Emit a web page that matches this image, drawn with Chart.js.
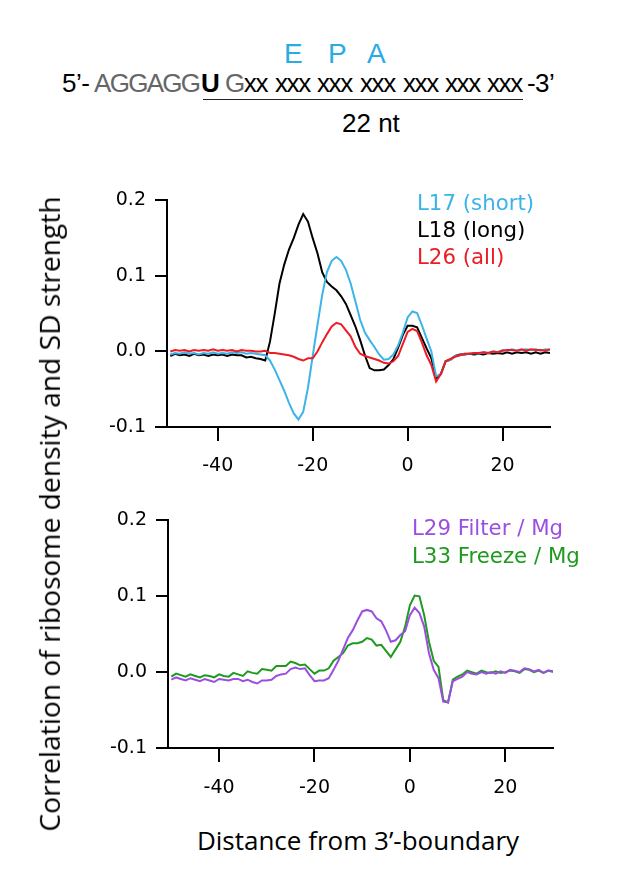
<!DOCTYPE html>
<html><head><meta charset="utf-8">
<script src="https://cdn.jsdelivr.net/npm/chart.js@4.4.0/dist/chart.umd.min.js"></script>
<style>
body{margin:0;width:638px;height:886px;background:#fff;position:relative;overflow:hidden;}
.abs{position:absolute;white-space:nowrap;line-height:1;}
.leg{font-family:"DejaVu Sans";font-size:21.3px;}
.sq{position:absolute;white-space:nowrap;line-height:1;top:70px;font-family:'Liberation Sans';font-size:26px;color:#000;letter-spacing:-1.4px;}
.epa{position:absolute;line-height:1;top:40px;font-family:'Liberation Sans';font-size:28px;color:#29abe2;}
</style></head><body>

<div class="epa" style="left:284px;">E</div>
<div class="epa" style="left:328px;">P</div>
<div class="epa" style="left:367px;">A</div>

<div class="sq" style="left:62px;letter-spacing:-0.5px;">5’-</div>
<div class="sq" style="left:94px;color:#666;letter-spacing:-1.7px;">AGGAGG</div>
<div class="sq" style="left:201px;font-weight:bold;letter-spacing:0;">U</div>
<div class="sq" style="left:225px;"><span style="color:#666">G</span>xx</div>
<div class="sq" style="left:275px;">xxx</div>
<div class="sq" style="left:317px;">xxx</div>
<div class="sq" style="left:360px;">xxx</div>
<div class="sq" style="left:403px;">xxx</div>
<div class="sq" style="left:445px;">xxx</div>
<div class="sq" style="left:487px;">xxx</div>
<div class="sq" style="left:527px;letter-spacing:-0.6px;">-3’</div>

<div class="abs" style="left:203px;top:99px;width:320px;height:0;border-top:1.5px solid #222;"></div>
<div class="abs" style="left:342px;top:110px;font-family:'Liberation Sans';font-size:26px;color:#000;">22 nt</div>

<div class="abs" style="left:0;top:180px;"><canvas id="c1" width="638" height="300"></canvas></div>
<div class="abs" style="left:0;top:500px;"><canvas id="c2" width="638" height="300"></canvas></div>

<div class="abs leg" style="left:417px;top:192px;color:#3cb4e8;">L17 (short)</div>
<div class="abs leg" style="left:417px;top:219px;color:#000;">L18 (long)</div>
<div class="abs leg" style="left:417px;top:246px;color:#ed1c24;">L26 (all)</div>
<div class="abs leg" style="left:412px;top:517px;color:#9b4fe0;">L29 Filter / Mg</div>
<div class="abs leg" style="left:412px;top:545px;color:#1f9a1f;">L33 Freeze / Mg</div>

<div class="abs" style="left:49px;top:514px;transform:translate(-50%,-50%) rotate(-90deg);font-family:'Open Sans';font-size:28.2px;color:#000;">Correlation of ribosome density and SD strength</div>
<div class="abs" style="left:358px;top:840px;transform:translate(-50%,-50%);font-family:'Open Sans';font-size:26px;color:#000;">Distance from 3’-boundary</div>

<script>
const positions = [-50,-49,-48,-47,-46,-45,-44,-43,-42,-41,-40,-39,-38,-37,-36,-35,-34,-33,-32,-31,-30,-29,-28,-27,-26,-25,-24,-23,-22,-21,-20,-19,-18,-17,-16,-15,-14,-13,-12,-11,-10,-9,-8,-7,-6,-5,-4,-3,-2,-1,0,1,2,3,4,5,6,7,8,9,10,11,12,13,14,15,16,17,18,19,20,21,22,23,24,25,26,27,28,29,30];
const xTicks = [-40,-20,0,20];
const yTicks = [-0.1,0.0,0.1,0.2];

const L17_short = [-0.004,-0.002,-0.003,-0.001,-0.003,-0.002,-0.004,-0.002,-0.003,-0.001,-0.003,-0.002,-0.003,-0.001,-0.002,-0.001,-0.003,-0.002,-0.003,-0.004,
 -0.005,-0.012,-0.024,-0.038,-0.052,-0.068,-0.082,-0.09,-0.08,-0.048,-0.006,0.035,0.075,0.105,0.12,0.125,0.12,0.108,0.09,0.066,0.042,0.025,0.015,0.006,-0.004,-0.011,-0.01,-0.004,0.008,0.025,
 0.045,0.053,0.051,0.035,0.017,0.0,-0.033,-0.03,-0.013,-0.011,-0.006,-0.005,-0.003,-0.003,-0.002,-0.003,-0.001,-0.002,0.0,-0.001,0.002,0.001,0.003,0.001,0.002,0.003,0.002,0.003,0.001,0.003,0.002];
const L18_long = [-0.006,-0.003,-0.005,-0.004,-0.006,-0.003,-0.005,-0.004,-0.006,-0.004,-0.005,-0.004,-0.006,-0.004,-0.005,-0.005,-0.008,-0.007,-0.009,-0.010,
 -0.012,0.013,0.05,0.09,0.115,0.135,0.15,0.168,0.182,0.172,0.15,0.13,0.105,0.092,0.086,0.081,0.073,0.063,0.048,0.033,0.015,-0.005,-0.022,-0.025,-0.025,-0.024,-0.018,-0.01,0.005,0.022,
 0.034,0.034,0.032,0.018,0.004,-0.009,-0.035,-0.03,-0.013,-0.011,-0.006,-0.004,-0.004,-0.003,-0.004,-0.003,-0.004,-0.002,-0.003,-0.002,-0.003,-0.001,-0.003,-0.001,-0.002,-0.001,-0.003,-0.001,-0.003,-0.001,-0.002];
const L26_all = [0.0,0.002,0.001,0.002,0.0,0.002,0.001,0.002,0.001,0.003,0.001,0.002,0.001,0.002,0.0,0.002,0.001,0.001,0.0,0.0,
 0.001,-0.002,-0.002,-0.003,-0.004,-0.005,-0.007,-0.01,-0.012,-0.009,-0.009,0.0,0.012,0.023,0.033,0.038,0.036,0.028,0.02,0.006,-0.003,-0.006,-0.008,-0.01,-0.012,-0.015,-0.016,-0.013,-0.006,0.01,
 0.026,0.03,0.027,0.012,-0.005,-0.018,-0.04,-0.03,-0.013,-0.01,-0.007,-0.005,-0.003,-0.003,-0.002,-0.002,-0.001,-0.002,0.0,-0.001,0.001,0.002,0.002,0.001,0.003,0.001,0.003,0.002,0.002,0.001,0.003];
const L29_filter = [-0.01,-0.007,-0.009,-0.011,-0.008,-0.01,-0.012,-0.009,-0.011,-0.013,-0.009,-0.01,-0.011,-0.009,-0.009,-0.012,-0.01,-0.013,-0.015,-0.011,
 -0.011,-0.01,-0.005,-0.003,-0.002,0.004,0.006,0.004,0.005,-0.004,-0.012,-0.011,-0.011,-0.008,0.003,0.015,0.03,0.045,0.055,0.068,0.08,0.082,0.08,0.071,0.067,0.055,0.04,0.042,0.049,0.054,
 0.075,0.085,0.078,0.06,0.025,0.003,-0.008,-0.039,-0.04,-0.012,-0.009,-0.006,0.0,-0.002,-0.003,0.0,-0.002,0.0,-0.002,0.001,-0.001,0.003,0.002,0.0,0.005,0.004,0.001,0.003,-0.001,0.002,0.0];
const L33_freeze = [-0.006,-0.002,-0.004,-0.006,-0.003,-0.005,-0.007,-0.004,-0.005,-0.007,-0.003,-0.005,-0.006,-0.001,-0.003,-0.005,0.001,-0.001,-0.002,0.004,
 0.003,0.002,0.008,0.008,0.008,0.014,0.012,0.009,0.01,0.004,-0.002,0.002,0.002,0.005,0.015,0.02,0.025,0.035,0.038,0.038,0.04,0.045,0.043,0.035,0.036,0.028,0.02,0.03,0.04,0.06,
 0.088,0.101,0.1,0.075,0.04,0.015,0.007,-0.037,-0.04,-0.01,-0.006,-0.003,0.002,0.0,-0.002,0.002,0.0,-0.001,0.001,-0.001,0.0,0.002,0.001,-0.001,0.004,0.003,0.0,0.002,-0.001,0.002,0.001];

function pts(vals){ return positions.map((x,i)=>({x:x,y:vals[i]})); }
function ds(label, vals, color){
  return {label, data: pts(vals), borderColor: color, backgroundColor: color, borderWidth: 2, pointRadius: 0, tension: 0, fill: false};
}
function makeChart(id, datasets, pad){
  return new Chart(document.getElementById(id), {
    type: 'line',
    data: { datasets },
    options: {
      responsive: false, animation: false, maintainAspectRatio: false,
      layout: { padding: {top: pad.top, right: pad.right, bottom: 0, left: 0} },
      plugins: { legend: {display:false}, tooltip: {enabled:false} },
      scales: {
        x: {
          type: 'linear', min: -50.7, max: 30,
          afterBuildTicks: s => { s.ticks = xTicks.map(v => ({value: v})); },
          afterFit: s => { s.height = pad.xAxisH; },
          border: { display: true, color: '#000', width: 2 },
          grid: { drawOnChartArea: false, drawTicks: true, tickLength: 14, color: '#000', lineWidth: 2 },
          ticks: { color: '#000', font: { family: 'DejaVu Sans', size: 19 }, padding: pad.xPad, maxRotation: 0, callback: v => String(v) }
        },
        y: {
          min: -0.1, max: 0.2,
          afterBuildTicks: s => { s.ticks = yTicks.map(v => ({value: v})); },
          afterFit: s => { s.width = pad.leftAxis; },
          border: { display: true, color: '#000', width: 2 },
          grid: { drawOnChartArea: false, drawTicks: true, tickLength: 12, color: '#000', lineWidth: 2 },
          ticks: { color: '#000', font: { family: 'DejaVu Sans', size: 19 }, padding: 9, callback: v => Number(v).toFixed(1) }
        }
      }
    }
  });
}
makeChart('c1', [ds('L26 (all)', L26_all, '#ed1c24'), ds('L17 (short)', L17_short, '#3cb4e8'), ds('L18 (long)', L18_long, '#000000')],
  {top: 18, right: 88, leftAxis: 167, xAxisH: 53, xPad: 14});
makeChart('c2', [ds('L29 Filter / Mg', L29_filter, '#9b4fe0'), ds('L33 Freeze / Mg', L33_freeze, '#1f9a1f')],
  {top: 19, right: 85, leftAxis: 168, xAxisH: 52, xPad: 15});
</script>
</body></html>
